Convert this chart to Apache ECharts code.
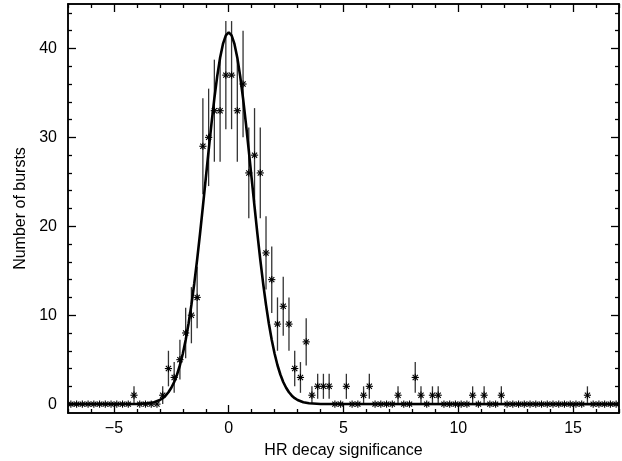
<!DOCTYPE html>
<html>
<head>
<meta charset="utf-8">
<script src="https://cdn.jsdelivr.net/npm/echarts@6/dist/echarts.min.js"></script>
<style>
html,body{margin:0;padding:0;background:#fff;}
#chart{width:622px;height:461px;}
</style>
</head>
<body>
<div id="chart"></div>
<script>
// Histogram bin centres (bin width 0.25)
const binCenters = [
  -6.875,-6.625,-6.375,-6.125,-5.875,-5.625,-5.375,-5.125,
  -4.875,-4.625,-4.375,-4.125,-3.875,-3.625,-3.375,-3.125,
  -2.875,-2.625,-2.375,-2.125,-1.875,-1.625,-1.375,-1.125,
  -0.875,-0.625,-0.375,-0.125,0.125,0.375,0.625,0.875,
  1.125,1.375,1.625,1.875,2.125,2.375,2.625,2.875,
  3.125,3.375,3.625,3.875,4.125,4.375,4.625,4.875,
  5.125,5.375,5.625,5.875,6.125,6.375,6.625,6.875,
  7.125,7.375,7.625,7.875,8.125,8.375,8.625,8.875,
  9.125,9.375,9.625,9.875,10.125,10.375,10.625,10.875,
  11.125,11.375,11.625,11.875,12.125,12.375,12.625,12.875,
  13.125,13.375,13.625,13.875,14.125,14.375,14.625,14.875,
  15.125,15.375,15.625,15.875,16.125,16.375,16.625,16.875
];
// Number of bursts per bin
const counts = [
  0,0,0,0,0,0,0,0,
  0,0,0,1,0,0,0,0,
  1,4,3,5,8,10,12,29,
  30,33,33,37,37,33,36,26,
  28,26,17,14,9,11,9,4,
  3,7,1,2,2,2,0,0,
  2,0,0,1,2,0,0,0,
  0,1,0,0,3,1,0,1,
  1,0,0,0,0,0,1,0,
  1,0,0,1,0,0,0,0,
  0,0,0,0,0,0,0,0,
  0,0,1,0,0,0,0,0
];
// Error bar half-lengths
const errors = [
  0,0,0,0,0,0,0,0,
  0,0,0,1,0,0,0,0,
  1,2,1.73,2.24,2.83,3.16,3.46,5.39,
  5.48,5.74,5.74,6.08,6.08,5.74,6,5.1,
  5.29,5.1,4.12,3.74,3,3.32,3,2,
  1.73,2.65,1,1.41,1.41,1.41,0,0,
  1.41,0,0,1,1.41,0,0,0,
  0,1,0,0,1.73,1,0,1,
  1,0,0,0,0,0,1,0,
  1,0,0,1,0,0,0,0,
  0,0,0,0,0,0,0,0,
  0,0,1,0,0,0,0,0
];
// Fitted Gaussian curve
const fitX = [-7,-4,-3.5,-3.25,-3,-2.875,-2.75,-2.625,-2.5,-2.375,-2.25,-2.125,-2,-1.875,-1.75,-1.625,-1.5,-1.375,-1.25,-1.125,-1,-0.875,-0.75,-0.625,-0.5,-0.375,-0.25,-0.125,0,
  0.125,0.25,0.375,0.5,0.625,0.75,0.875,1,1.125,1.25,1.375,1.5,1.625,1.75,1.875,2,2.125,2.25,2.375,2.5,2.625,2.75,2.875,3,3.25,3.5,4,17];
const fitY = [0,0.01,0.09,0.21,0.46,0.67,0.95,1.33,1.84,2.49,3.33,4.37,5.66,7.21,9.04,11.16,13.57,16.24,19.14,22.2,25.35,28.51,31.55,34.38,36.89,38.96,40.51,41.47,41.8,
  41.47,40.51,38.96,36.89,34.38,31.55,28.51,25.35,22.2,19.14,16.24,13.57,11.16,9.04,7.21,5.66,4.37,3.33,2.49,1.84,1.33,0.95,0.67,0.46,0.21,0.09,0.01,0];
// Tick values
const xMajorTicks = [-5,0,5,10,15];
const xMinorTicks = [-7,-6,-4,-3,-2,-1,1,2,3,4,6,7,8,9,11,12,13,14,16,17];
const yMajorTicks = [0,10,20,30,40];
const yMinorTicks = [2,4,6,8,12,14,16,18,22,24,26,28,32,34,36,38,42,44];

const FONT = 'Liberation Sans, Arial, sans-serif';
const pts = binCenters.map((x,i)=>[x,counts[i],errors[i]]);
const curve = fitX.map((x,i)=>[x,fitY[i]]);

function mkX(pos, ticks, len, labels){
  return {
    type:'value', gridIndex:0, position:pos, min:-7, max:17,
    axisLine:{show:true, onZero:false, lineStyle:{color:'#000', width:1.5}},
    axisTick:{show:true, inside:true, length:len, customValues:ticks, lineStyle:{color:'#000', width:1.3}},
    axisLabel: labels ? {show:true, customValues:ticks, margin:8, color:'#000', fontSize:16, fontFamily:FONT,
      formatter:v=> v<0 ? '\u2212'+Math.abs(v) : String(v)} : {show:false},
    splitLine:{show:false}, minorTick:{show:false},
    name: labels ? 'HR decay significance' : '', nameLocation:'middle', nameGap:30,
    nameTextStyle:{color:'#000', fontSize:16, fontFamily:FONT}
  };
}
function mkY(pos, ticks, len, labels){
  return {
    type:'value', gridIndex:0, position:pos, min:-1, max:45,
    axisLine:{show:true, onZero:false, lineStyle:{color:'#000', width:1.5}},
    axisTick:{show:true, inside:true, length:len, customValues:ticks, lineStyle:{color:'#000', width:1.3}},
    axisLabel: labels ? {show:true, customValues:ticks, margin:11, color:'#000', fontSize:16, fontFamily:FONT} : {show:false},
    splitLine:{show:false}, minorTick:{show:false},
    name: labels ? 'Number of bursts' : '', nameLocation:'middle', nameGap:38, nameRotate:90,
    nameTextStyle:{color:'#000', fontSize:16, fontFamily:FONT}
  };
}

const chart = echarts.init(document.getElementById('chart'), null, {renderer:'canvas'});
chart.setOption({
  backgroundColor:'#fff',
  animation:false,
  grid:{left:68, right:3, top:4, bottom:48, containLabel:false, outerBoundsMode:'none'},
  xAxis:[mkX('bottom', xMajorTicks, 8, true), mkX('bottom', xMinorTicks, 4, false),
         mkX('top', xMajorTicks, 8, false), mkX('top', xMinorTicks, 4, false)],
  yAxis:[mkY('left', yMajorTicks, 8, true), mkY('left', yMinorTicks, 4, false),
         mkY('right', yMajorTicks, 8, false), mkY('right', yMinorTicks, 4, false)],
  series:[
    {
      type:'custom', xAxisIndex:0, yAxisIndex:0, data:pts, clip:true, z:2,
      renderItem:function(params, api){
        const x=api.value(0), y=api.value(1), e=api.value(2);
        const c=api.coord([x,y]);
        const children=[];
        if(e>0){
          const t=api.coord([x,y+e]), b=api.coord([x,y-e]);
          children.push({type:'line', shape:{x1:c[0],y1:t[1],x2:c[0],y2:b[1]}, style:{stroke:'#333', lineWidth:1.3}});
        }
        const r=3.6, d=r*0.72;
        [[ -r,0,r,0],[0,-r,0,r],[-d,-d,d,d],[-d,d,d,-d]].forEach(s=>{
          children.push({type:'line', shape:{x1:c[0]+s[0],y1:c[1]+s[1],x2:c[0]+s[2],y2:c[1]+s[3]}, style:{stroke:'#000', lineWidth:1.1}});
        });
        return {type:'group', children:children};
      }
    },
    {
      type:'line', xAxisIndex:0, yAxisIndex:0, data:curve, showSymbol:false, smooth:false,
      lineStyle:{color:'#000', width:2.6}, z:3, clip:true
    }
  ]
});
</script>
</body>
</html>
